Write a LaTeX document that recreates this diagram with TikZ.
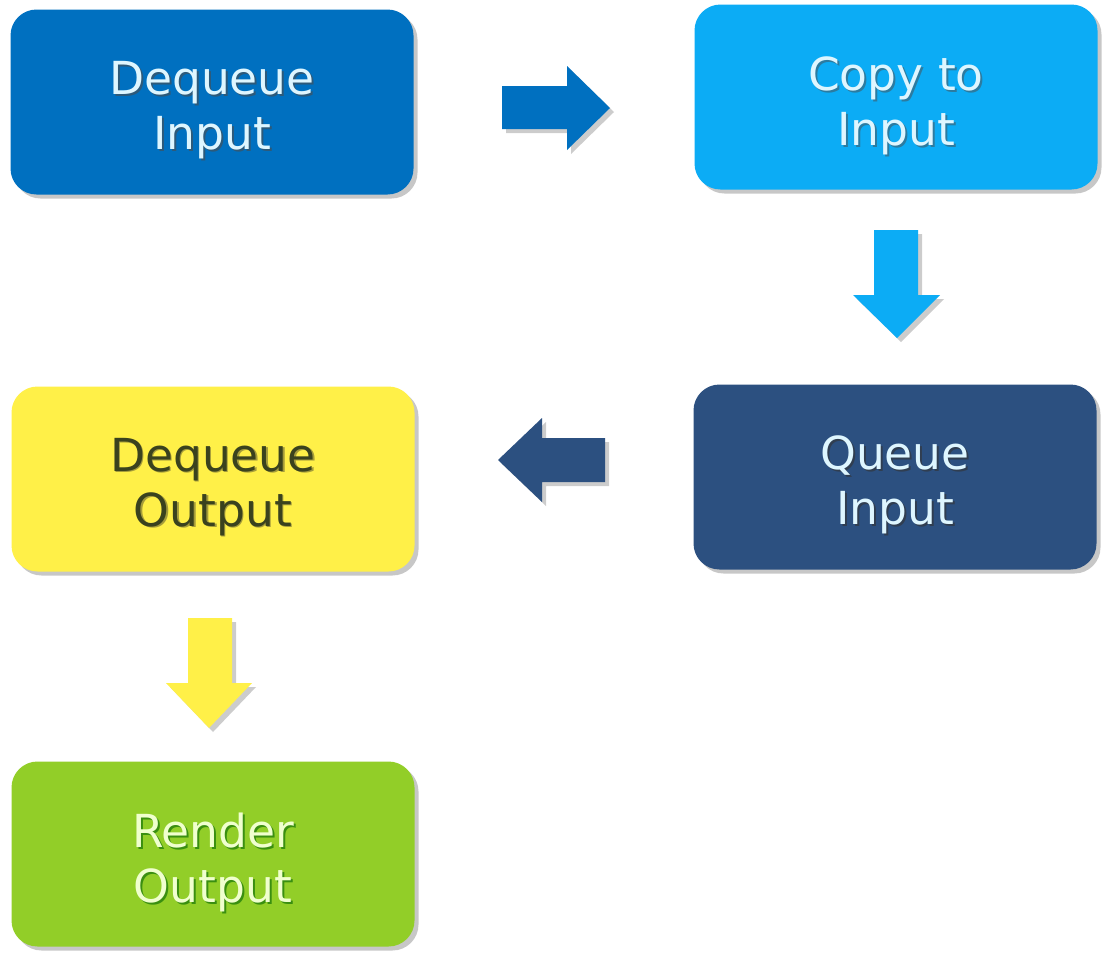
\documentclass[tikz,border=0pt]{standalone}
\usepackage{fontspec}
\setmainfont{DejaVu Sans}
\usetikzlibrary{shadows}
\definecolor{cBlue}{RGB}{0,112,192}
\definecolor{cSky}{RGB}{12,172,245}
\definecolor{cNavy}{RGB}{44,80,128}
\definecolor{cYellow}{RGB}{255,240,72}
\definecolor{cGreen}{RGB}{146,206,40}
\definecolor{tLight}{RGB}{222,246,255}
\definecolor{tGreen}{RGB}{240,255,206}
\definecolor{tDark}{RGB}{58,66,30}
\tikzset{
  box/.style={rounded corners=26pt, minimum width=403pt, minimum height=185pt,
    inner sep=0pt, draw=none,
    drop shadow={shadow xshift=4pt, shadow yshift=-4pt, opacity=0.22, fill=black}},
  txt/.style={align=center, font=\fontsize{45.5}{55}\selectfont, inner sep=0pt},
  blockarrow/.style={drop shadow={shadow xshift=4pt, shadow yshift=-4pt, opacity=0.2, fill=black}}
}
\begin{document}
\begin{tikzpicture}[x=1pt,y=-1pt]
\useasboundingbox[fill=white] (0,0) rectangle (1111,954);
% boxes
\node[box, fill=cBlue]   (b1) at (212,102) {};
\node[box, fill=cSky]    (b2) at (896,97) {};
\node[box, fill=cNavy]   (b4) at (895,477) {};
\node[box, fill=cYellow] (b3) at (213,479) {};
\node[box, fill=cGreen]  (b5) at (213,854) {};
% texts (shadow + main)
\node[txt, text=black!70, opacity=0.6] at ([shift={(2pt,-10pt)}]b1.center) {Dequeue\\Input};
\node[txt, text=tLight] (t1) at ([yshift=-8pt]b1.center) {Dequeue\\Input};
\node[txt, text=black!70, opacity=0.5] at ([shift={(2pt,-11pt)}]b2.center) {Copy to\\Input};
\node[txt, text=tLight] (t2) at ([yshift=-9pt]b2.center) {Copy to\\Input};
\node[txt, text=black!80, opacity=0.6] at ([shift={(2pt,-10pt)}]b4.center) {Queue\\Input};
\node[txt, text=tLight] (t4) at ([yshift=-8pt]b4.center) {Queue\\Input};
\node[txt, text=black!60!olive, opacity=0.5] at ([shift={(1.5pt,-9.5pt)}]b3.center) {Dequeue\\Output};
\node[txt, text=tDark] (t3) at ([yshift=-8pt]b3.center) {Dequeue\\Output};
\node[txt, text=black!60!green, opacity=0.6] at ([shift={(2pt,-10pt)}]b5.center) {Render\\Output};
\node[txt, text=tGreen] (t5) at ([yshift=-8pt]b5.center) {Render\\Output};
% block arrows
\fill[cBlue, blockarrow] (502,86) -- (567,86) -- (567,66) -- (610,108) -- (567,150) -- (567,129) -- (502,129) -- cycle;
\fill[cSky, blockarrow] (874,230) -- (918,230) -- (918,295) -- (940,295) -- (897,338) -- (853,295) -- (874,295) -- cycle;
\fill[cNavy, blockarrow] (605,438) -- (542,438) -- (542,418) -- (498,460) -- (542,502) -- (542,482) -- (605,482) -- cycle;
\fill[cYellow, blockarrow] (188,618) -- (232,618) -- (232,683) -- (252,683) -- (209,728) -- (166,683) -- (188,683) -- cycle;
\end{tikzpicture}
\end{document}
